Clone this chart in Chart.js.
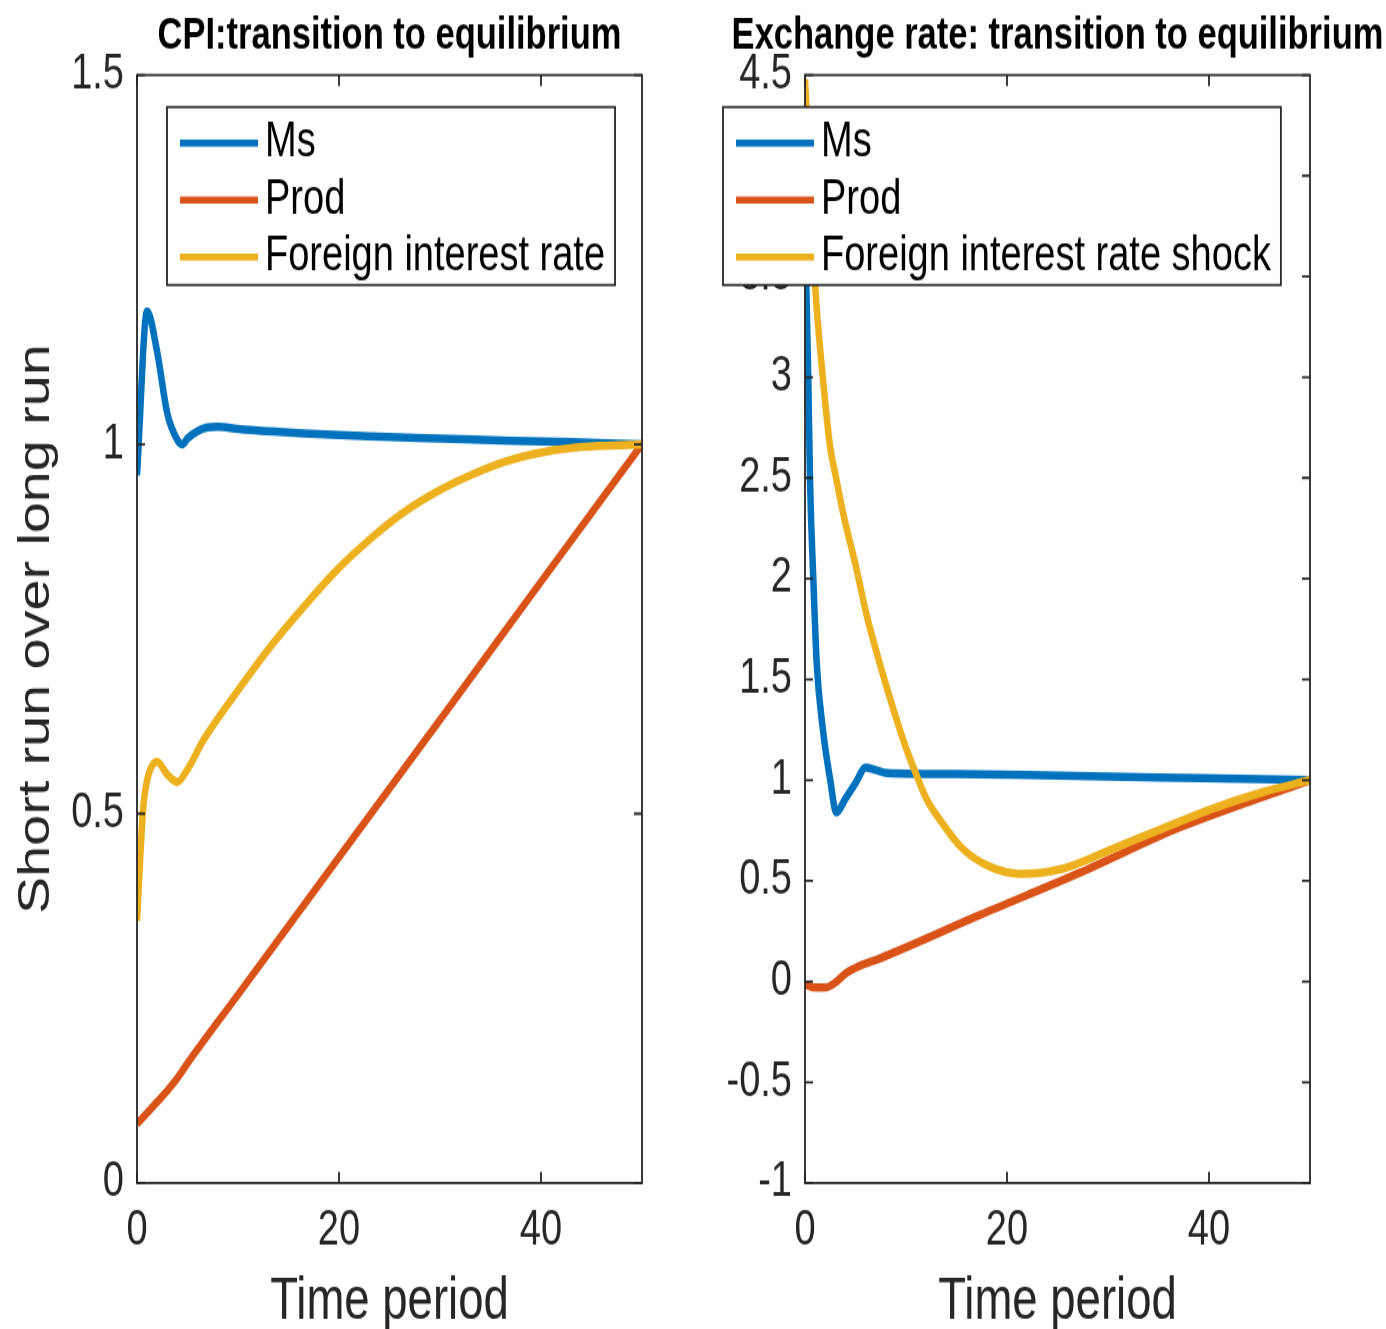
<!DOCTYPE html>
<html>
<head>
<meta charset="utf-8">
<title>Transition to equilibrium</title>
<script src="https://cdn.jsdelivr.net/npm/chart.js@4.4.1/dist/chart.umd.min.js"></script>
<style>
  body { margin: 0; background: #fff; }
  #wrap { position: relative; width: 1386px; height: 1329px; overflow: hidden; }
  /* the original figure is stretched vertically, so draw at 1038px and stretch */
  canvas { position: absolute; top: 0; transform: scaleY(1.28035); transform-origin: 0 0; }
  #cpi { left: 0; }
  #fx { left: 680px; }
</style>
</head>
<body>
<div id="wrap">
  <canvas id="cpi" width="680" height="1038"></canvas>
  <canvas id="fx" width="706" height="1038"></canvas>
</div>
<script>
// CPI panel (short run over long run)
const cpiMsT   = [0, 1, 2, 3, 4, 4.5, 5, 6, 7, 8, 10, 16.5, 23, 30, 37, 43, 50];
const cpiMs    = [0.958, 1.18, 1.125, 1.042, 1.006, 1.0, 1.008, 1.018, 1.023, 1.024, 1.021, 1.015, 1.011, 1.008, 1.005, 1.003, 1.0];
const cpiProdT = [0, 1, 2, 3, 4, 5, 10, 20, 30, 40, 50];
const cpiProd  = [0.08, 0.095, 0.11, 0.125, 0.142, 0.162, 0.255, 0.441, 0.627, 0.814, 1.0];
const cpiForT  = [0, 0.6, 1, 2, 3, 4, 5, 6.6, 9.9, 13.2, 16.5, 19.8, 23.1, 26.4, 29.7, 33, 36.3, 39.6, 42.9, 46, 50];
const cpiFor   = [0.355, 0.505, 0.545, 0.57, 0.553, 0.543, 0.56, 0.6, 0.665, 0.726, 0.78, 0.83, 0.872, 0.908, 0.936, 0.958, 0.976, 0.988, 0.995, 0.998, 1.0];

// Exchange rate panel
const fxMsT   = [0, 0.33, 0.5, 0.83, 1.16, 1.8, 2.5, 3.1, 4, 5, 6, 7, 8.1, 15, 25, 35, 45, 50];
const fxMs    = [3.75, 2.98, 2.48, 1.99, 1.58, 1.24, 1.0, 0.84, 0.907, 0.985, 1.062, 1.05, 1.035, 1.03, 1.022, 1.013, 1.005, 1.0];
const fxProdT = [0, 1, 2, 3, 4, 5.5, 7.4, 17.3, 27.2, 37.1, 50];
const fxProd  = [-0.015, -0.03, -0.03, -0.005, 0.04, 0.08, 0.115, 0.33, 0.54, 0.765, 1.0];
const fxForT  = [0, 1, 1.8, 2.5, 3, 3.8, 5, 6.1, 7.4, 8.7, 10, 11, 12, 13.4, 15.6, 18.3, 21.3, 25.5, 30.5, 35.4, 40.4, 45.3, 50];
const fxFor   = [4.48, 3.46, 2.98, 2.65, 2.52, 2.32, 2.07, 1.82, 1.58, 1.36, 1.16, 1.03, 0.91, 0.8, 0.66, 0.57, 0.535, 0.56, 0.66, 0.76, 0.86, 0.94, 1.0];

const xTicks    = [0, 20, 40];
const cpiYTicks = [0, 0.5, 1, 1.5];
const fxYTicks  = [-1, -0.5, 0, 0.5, 1, 1.5, 2, 2.5, 3, 3.5, 4, 4.5];

const cpiNames = ['Ms', 'Prod', 'Foreign interest rate'];
const fxNames  = ['Ms', 'Prod', 'Foreign interest rate shock'];
const colors   = ['#0072BD', '#D95319', '#EDB120'];

const FONT = '"Liberation Sans", Arial, Helvetica, sans-serif';
const AXIS = '#262626';

function pts(t, v) {
    return t.map((x, i) => ({ x: x, y: v[i] }));
}

// box, inward ticks, title and legend drawn the matlab way
const matlabAxes = {
    id: 'matlabAxes',
    afterDraw(chart, args, opts) {
        const ctx = chart.ctx, a = chart.chartArea;
        const xs = chart.scales.x, ys = chart.scales.y;
        ctx.save();
        ctx.strokeStyle = AXIS;
        ctx.lineWidth = 1.8;
        ctx.beginPath();
        xs.ticks.forEach(t => {
            const px = xs.getPixelForValue(t.value);
            ctx.moveTo(px, a.bottom); ctx.lineTo(px, a.bottom - 8.6);
            ctx.moveTo(px, a.top); ctx.lineTo(px, a.top + 8.6);
        });
        ys.ticks.forEach(t => {
            const py = ys.getPixelForValue(t.value);
            ctx.moveTo(a.left, py); ctx.lineTo(a.left + 8, py);
            ctx.moveTo(a.right, py); ctx.lineTo(a.right - 8, py);
        });
        ctx.stroke();
        ctx.strokeRect(a.left, a.top, a.right - a.left, a.bottom - a.top);

        ctx.fillStyle = '#000';
        ctx.font = 'bold 34.5px ' + FONT;
        ctx.textAlign = 'center';
        ctx.textBaseline = 'alphabetic';
        ctx.fillText(opts.title, (a.left + a.right) / 2, 37.5);

        ctx.font = '38px ' + FONT;
        const sets = chart.data.datasets;
        const tw = Math.max(...sets.map(d => ctx.measureText(d.label).width));
        const bx = a.left + opts.legendDx, by = 83.6, bw = 98 + tw + 10, bh = 139;
        ctx.fillStyle = '#fff';
        ctx.fillRect(bx, by, bw, bh);
        ctx.lineWidth = 1.8;
        ctx.strokeStyle = AXIS;
        ctx.strokeRect(bx, by, bw, bh);
        sets.forEach((d, i) => {
            const y = by + 28.1 + i * 44.5;
            ctx.strokeStyle = d.borderColor;
            ctx.lineWidth = 5.5;
            ctx.beginPath();
            ctx.moveTo(bx + 13, y); ctx.lineTo(bx + 91, y);
            ctx.stroke();
            ctx.fillStyle = '#000';
            ctx.textAlign = 'left';
            ctx.textBaseline = 'middle';
            ctx.fillText(d.label, bx + 98, y);
        });
        ctx.restore();
    }
};

function panel(id, names, series, yMin, yMax, yTicks, cfg) {
    const datasets = series.map((s, i) => ({
        label: names[i],
        data: pts(s[0], s[1]),
        borderColor: colors[i],
        borderWidth: 6.5,
        pointRadius: 0,
        cubicInterpolationMode: 'monotone',
        order: 2 - i
    }));
    return new Chart(document.getElementById(id), {
        type: 'line',
        data: { datasets: datasets },
        options: {
            responsive: false,
            animation: false,
            events: [],
            layout: { padding: { left: 0, top: 58.58, right: cfg.padRight, bottom: 0 } },
            plugins: {
                legend: { display: false },
                tooltip: { enabled: false },
                matlabAxes: { title: cfg.title, legendDx: cfg.legendDx }
            },
            scales: {
                x: {
                    type: 'linear', min: 0, max: 50,
                    afterBuildTicks: s => { s.ticks = xTicks.map(v => ({ value: v })); },
                    afterFit: s => { s.height = 114.03; },
                    ticks: { font: { family: FONT, size: 38 }, color: AXIS, padding: 15, maxRotation: 0,
                             callback: v => String(v) },
                    grid: { display: false, drawTicks: false },
                    border: { display: false },
                    title: { display: true, text: 'Time period', color: AXIS,
                             font: { family: FONT, size: 45.5, lineHeight: 0.9 }, padding: 0 }
                },
                y: {
                    type: 'linear', min: yMin, max: yMax,
                    afterBuildTicks: s => { s.ticks = yTicks.map(v => ({ value: v })); },
                    afterFit: s => { s.width = cfg.yWidth; },
                    ticks: { font: { family: FONT, size: 38 }, color: AXIS, padding: 13,
                             callback: v => String(v) },
                    grid: { display: false, drawTicks: false },
                    border: { display: false },
                    title: { display: cfg.yTitle !== '', text: cfg.yTitle, color: AXIS,
                             font: { family: FONT, size: 43.5 }, padding: { top: 11, bottom: 0 } }
                }
            }
        },
        plugins: [matlabAxes]
    });
}

panel('cpi', cpiNames,
      [[cpiMsT, cpiMs], [cpiProdT, cpiProd], [cpiForT, cpiFor]],
      0, 1.5, cpiYTicks,
      { title: 'CPI:transition to equilibrium', yTitle: 'Short run over long run',
        yWidth: 137, padRight: 38, legendDx: 30 });

panel('fx', fxNames,
      [[fxMsT, fxMs], [fxProdT, fxProd], [fxForT, fxFor]],
      -1, 4.5, fxYTicks,
      { title: 'Exchange rate: transition to equilibrium', yTitle: '',
        yWidth: 125, padRight: 76, legendDx: -82 });
</script>
</body>
</html>
